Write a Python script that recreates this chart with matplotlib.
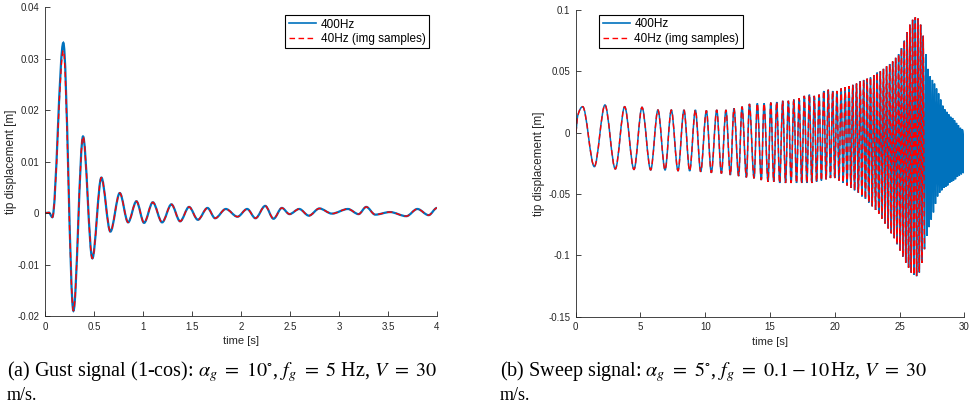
import matplotlib
matplotlib.use('Agg')
import matplotlib.pyplot as plt
from matplotlib.path import Path
from matplotlib.patches import PathPatch
from matplotlib.ticker import FormatStrFormatter

# (a) gust response, turning points [s], [m]
gust_t = [0, 0.04, 0.075, 0.187, 0.29, 0.388, 0.483,
          0.575, 0.667, 0.763, 0.848, 0.933, 1.011, 1.10, 1.195, 1.29, 1.379,
          1.47, 1.56, 1.658, 1.736, 1.845, 1.964, 2.063, 2.148, 2.247, 2.332,
          2.417, 2.495, 2.594, 2.693, 2.80, 2.928, 3.091, 3.2, 3.278, 3.37,
          3.52, 3.687, 3.80, 3.915, 4.0]
gust_v = [0, 0.0001, -0.0008, 0.0331, -0.019, 0.0149, -0.0088,
          0.0069, -0.0036, 0.0039, -0.0018, 0.0023, -0.0019, 0.0021, -0.0018, 0.0017, -0.0016,
          0.0012, -0.0013, 0.0010, -0.0010, 0.0008, -0.0007, 0.0008, -0.0010, 0.0014, -0.0011,
          0.0010, -0.0002, 0.0008, -0.0005, 0.0009, -0.0001, 0.0008, -0.0002, 0.0012, -0.0003,
          0.0002, -0.0006, 0.0008, -0.0004, 0.0010]
gust_peak_40 = 0.0316   # the 40Hz samples miss the top of the first peak

# (b) sweep response, turning points [s], [m]
sweep_t = [0, 0.15, 0.54, 1.44, 2.26, 3.06, 3.78, 4.5, 5.12, 5.79,
           6.35, 6.9, 7.38, 7.9, 8.36, 8.8, 9.24, 9.65, 10.09, 10.47,
           10.89, 11.25, 11.6, 11.94, 12.22, 12.58, 12.84, 13.18, 13.41, 13.77,
           14.02, 14.33, 14.54, 14.85, 15.06, 15.29, 15.52, 15.75, 15.98, 16.2,
           16.42, 16.63, 16.84, 17.05, 17.25, 17.45, 17.65, 17.85, 18.04, 18.23,
           18.42, 18.6, 18.79, 18.97, 19.15, 19.33, 19.5, 19.67, 19.84, 20.0,
           20.17, 20.33, 20.49, 20.65, 20.8, 20.95, 21.1, 21.25, 21.39, 21.53,
           21.68, 21.82, 21.96, 22.1, 22.23, 22.37, 22.5, 22.63, 22.76, 22.89,
           23.02, 23.15, 23.27, 23.4, 23.52, 23.64, 23.76, 23.88, 24.0, 24.12,
           24.24, 24.36, 24.47, 24.59, 24.7, 24.81, 24.93, 25.04, 25.15, 25.26,
           25.37, 25.48, 25.59, 25.7, 25.8, 25.9, 26.01, 26.11, 26.22, 26.32,
           26.43, 26.53, 26.63, 26.73, 26.83, 26.93, 27.03, 27.12, 27.2, 27.28,
           27.37, 27.45, 27.54, 27.62, 27.7, 27.78, 27.86, 27.94, 28.02, 28.1,
           28.18, 28.26, 28.34, 28.42, 28.5, 28.58, 28.65, 28.72, 28.8, 28.87,
           28.95, 29.02, 29.1, 29.17, 29.25, 29.32, 29.4, 29.47, 29.55, 29.62,
           29.7, 29.77, 29.85, 29.92, 30.0]
sweep_v = [0, 0.0135, 0.0212, -0.0277, 0.0226, -0.0296, 0.0212, -0.030, 0.0207, -0.0304,
           0.0185, -0.0304, 0.0185, -0.031, 0.0185, -0.0312, 0.0185, -0.0318, 0.018, -0.0326,
           0.0185, -0.0332, 0.0185, -0.0345, 0.0198, -0.0353, 0.0212, -0.0364, 0.0234, -0.0372,
           0.0239, -0.0386, 0.0239, -0.040, 0.0245, -0.040, 0.025, -0.041, 0.026, -0.041,
           0.026, -0.041, 0.027, -0.041, 0.028, -0.041, 0.030, -0.041, 0.031, -0.041,
           0.030, -0.040, 0.031, -0.039, 0.034, -0.038, 0.035, -0.037, 0.034, -0.037,
           0.034, -0.039, 0.036, -0.041, 0.037, -0.043, 0.038, -0.045, 0.039, -0.047,
           0.040, -0.049, 0.042, -0.052, 0.043, -0.054, 0.044, -0.057, 0.045, -0.060,
           0.047, -0.063, 0.049, -0.066, 0.050, -0.070, 0.052, -0.074, 0.054, -0.078,
           0.056, -0.082, 0.058, -0.086, 0.061, -0.091, 0.064, -0.096, 0.069, -0.101,
           0.075, -0.106, 0.082, -0.110, 0.088, -0.114, 0.092, -0.116, 0.094, -0.117,
           0.093, -0.114, 0.088, -0.106, 0.079, -0.095, 0.064, -0.084, 0.052, -0.077,
           0.046, -0.071, 0.043, -0.065, 0.040, -0.058, 0.036, -0.052, 0.032, -0.049,
           0.027, -0.047, 0.022, -0.045, 0.019, -0.044, 0.017, -0.043, 0.015, -0.041,
           0.013, -0.040, 0.012, -0.039, 0.010, -0.038, 0.008, -0.036, 0.006, -0.035,
           0.004, -0.034, 0.003, -0.033, 0.002]
sweep_end_40 = 27.0     # image samples stop here

labels = ['400Hz', '40Hz (img samples)']
caption_a = r'(a) Gust signal (1-cos): $\alpha_g\ =\ 10^{\circ}$, $f_g\ =\ 5$ Hz, $V\ =\ 30$'
caption_b = r'(b) Sweep signal: $\alpha_g\ =\ 5^{\circ}$, $f_g\ =\ 0.1-10\,$Hz, $V\ =\ 30$'

plt.rcParams['font.family'] = ['Liberation Sans', 'DejaVu Sans']
plt.rcParams['mathtext.fontset'] = 'stix'

blue = '#0072BD'
red = '#FF0000'
ink = '#262626'
dash = (0, (4, 2.5))


def smooth_line(ax, ts, vs, **kw):
    # cubic curve through the turning points (flat tangent at peaks/troughs)
    n = len(ts)
    m = []
    for i in range(n):
        if i == 0 or i == n - 1 or (vs[i] - vs[i - 1]) * (vs[i + 1] - vs[i]) <= 0:
            m.append(0.0)
        else:
            m.append((vs[i + 1] - vs[i - 1]) / (ts[i + 1] - ts[i - 1]))
    verts = [(ts[0], vs[0])]
    codes = [Path.MOVETO]
    for i in range(n - 1):
        d = (ts[i + 1] - ts[i]) / 3
        verts += [(ts[i] + d, vs[i] + m[i] * d),
                  (ts[i + 1] - d, vs[i + 1] - m[i + 1] * d),
                  (ts[i + 1], vs[i + 1])]
        codes += [Path.CURVE4] * 3
    ax.add_patch(PathPatch(Path(verts, codes), fill=False, capstyle='butt', **kw))


fig = plt.figure(figsize=(9.7, 4.08), dpi=100)
ax1 = fig.add_axes([0.0464, 0.2255, 0.4041, 0.7566])
ax2 = fig.add_axes([0.5935, 0.2238, 0.4006, 0.7517])

gust_v40 = list(gust_v)
gust_v40[gust_v.index(max(gust_v))] = gust_peak_40
smooth_line(ax1, gust_t, gust_v, edgecolor=blue, lw=1.6)
smooth_line(ax1, gust_t, gust_v40, edgecolor=red, lw=1.0, ls=dash)

n40 = sum(1 for t in sweep_t if t <= sweep_end_40)
smooth_line(ax2, sweep_t, sweep_v, edgecolor=blue, lw=1.1)
smooth_line(ax2, sweep_t[:n40], sweep_v[:n40], edgecolor=red, lw=1.0, ls=dash)

# legend entries
for ax in (ax1, ax2):
    ax.plot([], [], color=blue, lw=1.2, label=labels[0])
    ax.plot([], [], color=red, lw=1.0, ls=dash, label=labels[1])

ax1.set_xlim(0, 4)
ax1.set_ylim(-0.02, 0.04)
ax1.set_xticks([0, 0.5, 1, 1.5, 2, 2.5, 3, 3.5, 4])
ax1.set_yticks([-0.02, -0.01, 0, 0.01, 0.02, 0.03, 0.04])
ax2.set_xlim(0, 30)
ax2.set_ylim(-0.15, 0.1)
ax2.set_xticks([0, 5, 10, 15, 20, 25, 30])
ax2.set_yticks([-0.15, -0.1, -0.05, 0, 0.05, 0.1])

for ax, xl in ((ax1, -0.071), (ax2, -0.079)):
    ax.xaxis.set_major_formatter(FormatStrFormatter('%g'))
    ax.yaxis.set_major_formatter(FormatStrFormatter('%g'))
    ax.spines['top'].set_visible(False)
    ax.spines['right'].set_visible(False)
    for s in ('left', 'bottom'):
        ax.spines[s].set_linewidth(0.6)
        ax.spines[s].set_color(ink)
    ax.tick_params(direction='in', length=3.6, width=0.6, colors=ink,
                   labelsize=7, pad=4)
    ax.set_xlabel('time [s]', fontsize=8, color=ink)
    ax.set_ylabel('tip displacement [m]', fontsize=8.5, color=ink)
    ax.xaxis.set_label_coords(0.5, -0.065)
    ax.yaxis.set_label_coords(xl, 0.5)

leg1 = ax1.legend(loc='upper right', bbox_to_anchor=(0.98, 0.975), borderaxespad=0,
                  fontsize=8.5, handlelength=2.3, fancybox=False, framealpha=1,
                  borderpad=0.3, labelspacing=0.2, handletextpad=0.4)
leg2 = ax2.legend(loc='upper left', bbox_to_anchor=(0.06, 0.984), borderaxespad=0,
                  fontsize=8.5, handlelength=2.3, fancybox=False, framealpha=1,
                  borderpad=0.3, labelspacing=0.2, handletextpad=0.4)
for leg in (leg1, leg2):
    leg.get_frame().set_edgecolor('black')
    leg.get_frame().set_linewidth(0.8)

serif = ['Liberation Serif', 'DejaVu Serif']
ca = fig.text(7 / 970, 1 - 372 / 408, caption_a, family=serif, fontsize=12, va='center')
cb = fig.text(500 / 970, 1 - 372 / 408, caption_b, family=serif, fontsize=12, va='center')
fig.text(7 / 970, 1 - 395 / 408, 'm/s.', family=serif, fontsize=13, va='center')
fig.text(500 / 970, 1 - 395 / 408, 'm/s.', family=serif, fontsize=13, va='center')

# stretch the first caption lines to the justified width of the original
fig.canvas.draw()
r = fig.canvas.get_renderer()
for txt, target in ((ca, 437), (cb, 468)):
    w = txt.get_window_extent(r).width
    txt.set_fontsize(min(14.5, 12 * target / w))

fig.savefig('out.png', dpi=100)
